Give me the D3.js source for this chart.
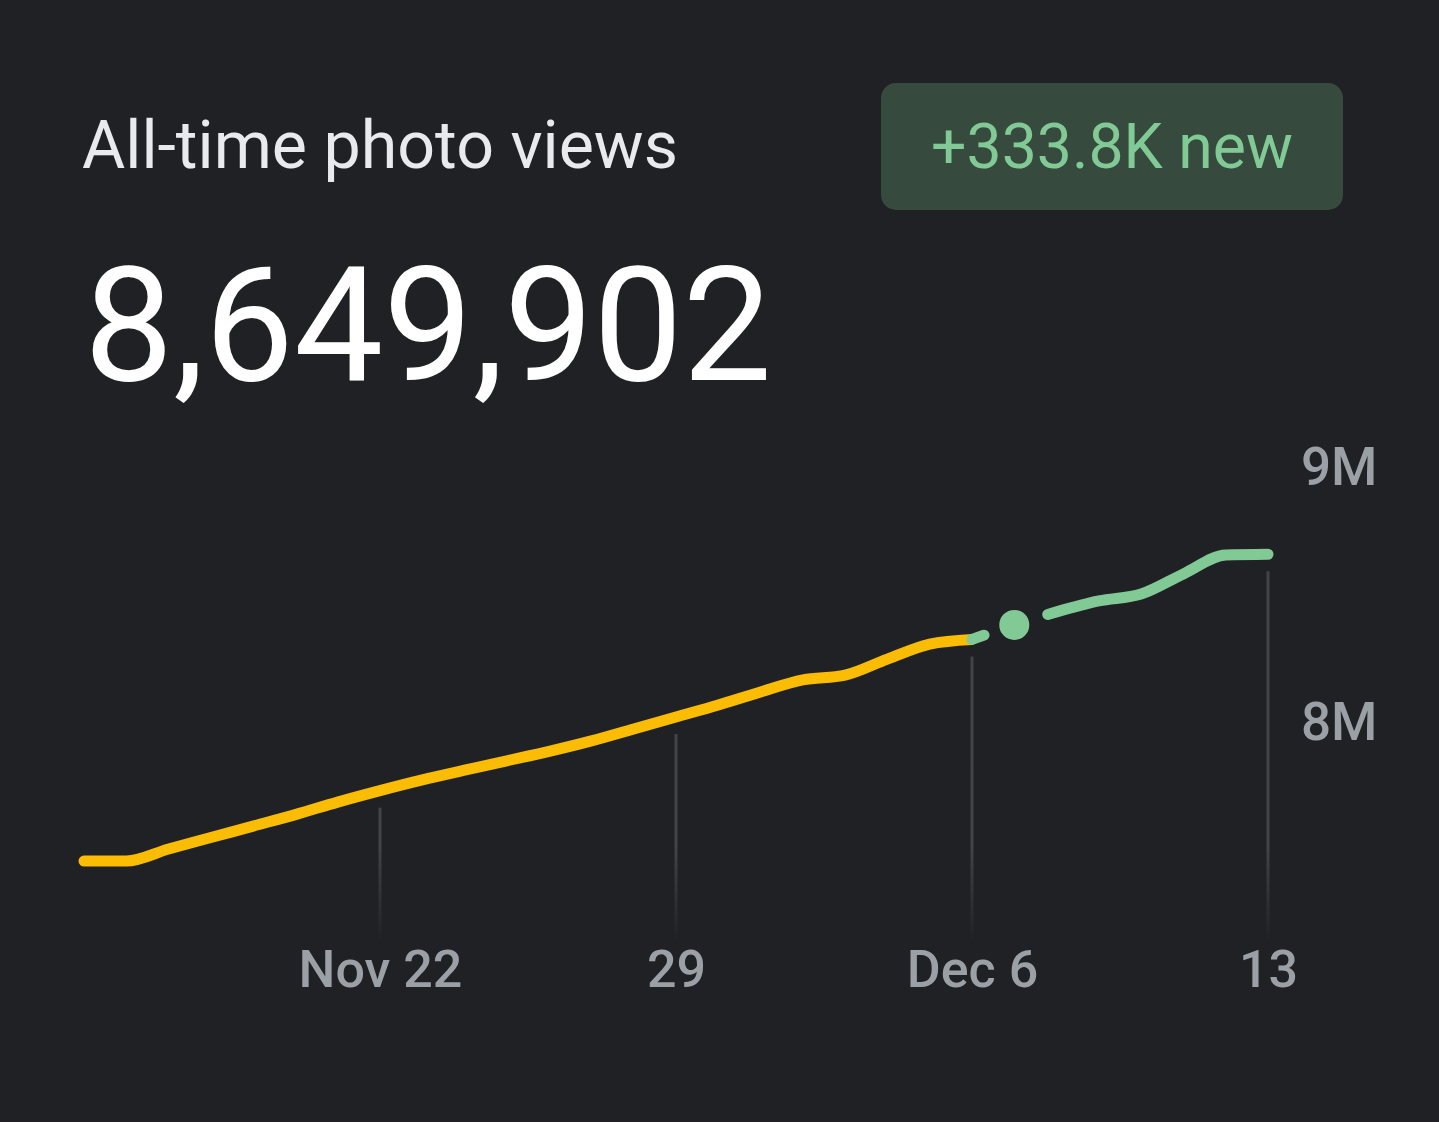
<!DOCTYPE html>
<html>
<head>
<meta charset="utf-8">
<script src="https://cdn.jsdelivr.net/npm/d3@7"></script>
<style>
  html, body { margin: 0; padding: 0; background: #202124; }
  svg { display: block; }
</style>
</head>
<body>
<svg id="chart" width="1439" height="1122"></svg>
<script>
// ---- data ----
const dates = [
  "2023-11-15","2023-11-16","2023-11-17","2023-11-18","2023-11-19","2023-11-20","2023-11-21",
  "2023-11-22","2023-11-23","2023-11-24","2023-11-25","2023-11-26","2023-11-27","2023-11-28",
  "2023-11-29","2023-11-30","2023-12-01","2023-12-02","2023-12-03","2023-12-04","2023-12-05",
  "2023-12-06","2023-12-07","2023-12-08","2023-12-09","2023-12-10","2023-12-11","2023-12-12",
  "2023-12-13"
];
const views = [
  7447000, 7447000, 7494000, 7539000, 7584000, 7629000, 7678000,
  7723000, 7765000, 7803000, 7840000, 7877000, 7918000, 7965000,
  8012000, 8059000, 8110000, 8157000, 8176000, 8239000, 8298000,
  8316102, 8373000, 8424000, 8467000, 8494000, 8573000, 8647000,
  8649902
];
const newStartDate = "2023-12-06";
const highlightDate = "2023-12-07";
const xTickDates = ["2023-11-22","2023-11-29","2023-12-06","2023-12-13"];
const xTickLabels = ["Nov 22","29","Dec 6","13"];
const yTickValues = [8000000, 9000000];
const yTickLabels = ["8M","9M"];
const titleText = "All-time photo views";
const totalText = "8,649,902";
const badgeText = "+333.8K new";

// ---- setup ----
const parse = d3.timeParse("%Y-%m-%d");
const data = dates.map((d, i) => ({ date: parse(d), value: views[i] }));
const svg = d3.select("#chart");
const BG = "#202124", YELLOW = "#fbbc04", GREEN = "#81c995";

svg.append("rect").attr("width", 1439).attr("height", 1122).attr("fill", BG);

const x = d3.scaleTime()
  .domain(d3.extent(data, d => d.date))
  .range([84, 1268]);
const y = d3.scaleLinear()
  .domain([8000000, 9000000])
  .range([720, 465]);

function fitText(sel, targetWidth) {
  const base = 100;
  sel.attr("font-size", base);
  const w = sel.node().getComputedTextLength();
  sel.attr("font-size", base * targetWidth / w);
}

// ---- header ----
const title = svg.append("text")
  .attr("x", 82).attr("y", 168)
  .attr("fill", "#e8eaed")
  .attr("font-family", "Roboto, 'Noto Sans', sans-serif")
  .attr("font-weight", 400)
  .text(titleText);
fitText(title, 596);

const total = svg.append("text")
  .attr("x", 84).attr("y", 380)
  .attr("fill", "#ffffff")
  .attr("font-family", "Roboto, 'Noto Sans', sans-serif")
  .attr("font-weight", 400)
  .text(totalText);
fitText(total, 688);

svg.append("rect")
  .attr("x", 881).attr("y", 83).attr("width", 462).attr("height", 127)
  .attr("rx", 15).attr("fill", "#374a3e");
const badge = svg.append("text")
  .attr("x", 1112).attr("y", 168)
  .attr("text-anchor", "middle")
  .attr("fill", GREEN)
  .attr("font-family", "Roboto, 'Noto Sans', sans-serif")
  .attr("font-weight", 400)
  .text(badgeText);
fitText(badge, 362);

// ---- gridlines ----
const defs = svg.append("defs");
const grad = defs.append("linearGradient")
  .attr("id", "gridFade")
  .attr("gradientUnits", "userSpaceOnUse")
  .attr("x1", 0).attr("x2", 0).attr("y1", 850).attr("y2", 942);
grad.append("stop").attr("offset", 0).attr("stop-color", "#3f4246").attr("stop-opacity", 1);
grad.append("stop").attr("offset", 1).attr("stop-color", "#3f4246").attr("stop-opacity", 0);

const byDate = new Map(dates.map((d, i) => [d, views[i]]));
svg.append("g").selectAll("line")
  .data(xTickDates)
  .join("line")
  .attr("x1", d => x(parse(d))).attr("x2", d => x(parse(d)))
  .attr("y1", d => y(byDate.get(d)) + 17)
  .attr("y2", 942)
  .attr("stroke", "url(#gridFade)")
  .attr("stroke-width", 3);

// ---- axes ----
const xAxis = d3.axisBottom(x)
  .tickValues(xTickDates.map(parse))
  .tickSize(0).tickPadding(0)
  .tickFormat((d, i) => xTickLabels[i]);
const gx = svg.append("g").attr("transform", "translate(0,987)").call(xAxis);
gx.select(".domain").remove();
gx.selectAll("text")
  .attr("y", 0).attr("dy", 0)
  .attr("fill", "#9aa0a6")
  .attr("font-family", "Roboto, sans-serif")
  .attr("font-weight", 500)
  .attr("font-size", 52);

const yAxis = d3.axisRight(y)
  .tickValues(yTickValues)
  .tickSize(0).tickPadding(0)
  .tickFormat((d, i) => yTickLabels[i]);
const gy = svg.append("g").attr("transform", "translate(1301,0)").call(yAxis);
gy.select(".domain").remove();
gy.selectAll("text")
  .attr("x", 0).attr("dy", 19)
  .attr("text-anchor", "start")
  .attr("fill", "#9aa0a6")
  .attr("font-family", "Roboto, sans-serif")
  .attr("font-weight", 500)
  .attr("font-size", 53);

// ---- lines ----
const line = d3.line()
  .x(d => x(d.date))
  .y(d => y(d.value))
  .curve(d3.curveMonotoneX);

const splitDate = parse(newStartDate);
const oldData = data.filter(d => d.date <= splitDate);
const newData = data.filter(d => d.date >= splitDate);

svg.append("path")
  .datum(oldData)
  .attr("d", line)
  .attr("fill", "none")
  .attr("stroke", YELLOW)
  .attr("stroke-width", 11)
  .attr("stroke-linecap", "round")
  .attr("stroke-linejoin", "round");

const greenPath = svg.append("path")
  .datum(newData)
  .attr("d", line)
  .attr("fill", "none")
  .attr("stroke", GREEN)
  .attr("stroke-width", 11)
  .attr("stroke-linecap", "round")
  .attr("stroke-linejoin", "round");

// gap around the highlighted point
const hl = data.find(d => +d.date === +parse(highlightDate));
const hx = x(hl.date), hy = y(hl.value);
const node = greenPath.node();
const totalLen = node.getTotalLength();
let lo = 0, hi = totalLen;
for (let k = 0; k < 40; k++) {
  const mid = (lo + hi) / 2;
  if (node.getPointAtLength(mid).x < hx) lo = mid; else hi = mid;
}
const Ld = lo;
const before = Ld - 32, gap = 67;
greenPath.attr("stroke-dasharray", `${before} ${gap} ${totalLen}`);

svg.append("circle")
  .attr("cx", hx).attr("cy", hy).attr("r", 15)
  .attr("fill", GREEN);
</script>
</body>
</html>
